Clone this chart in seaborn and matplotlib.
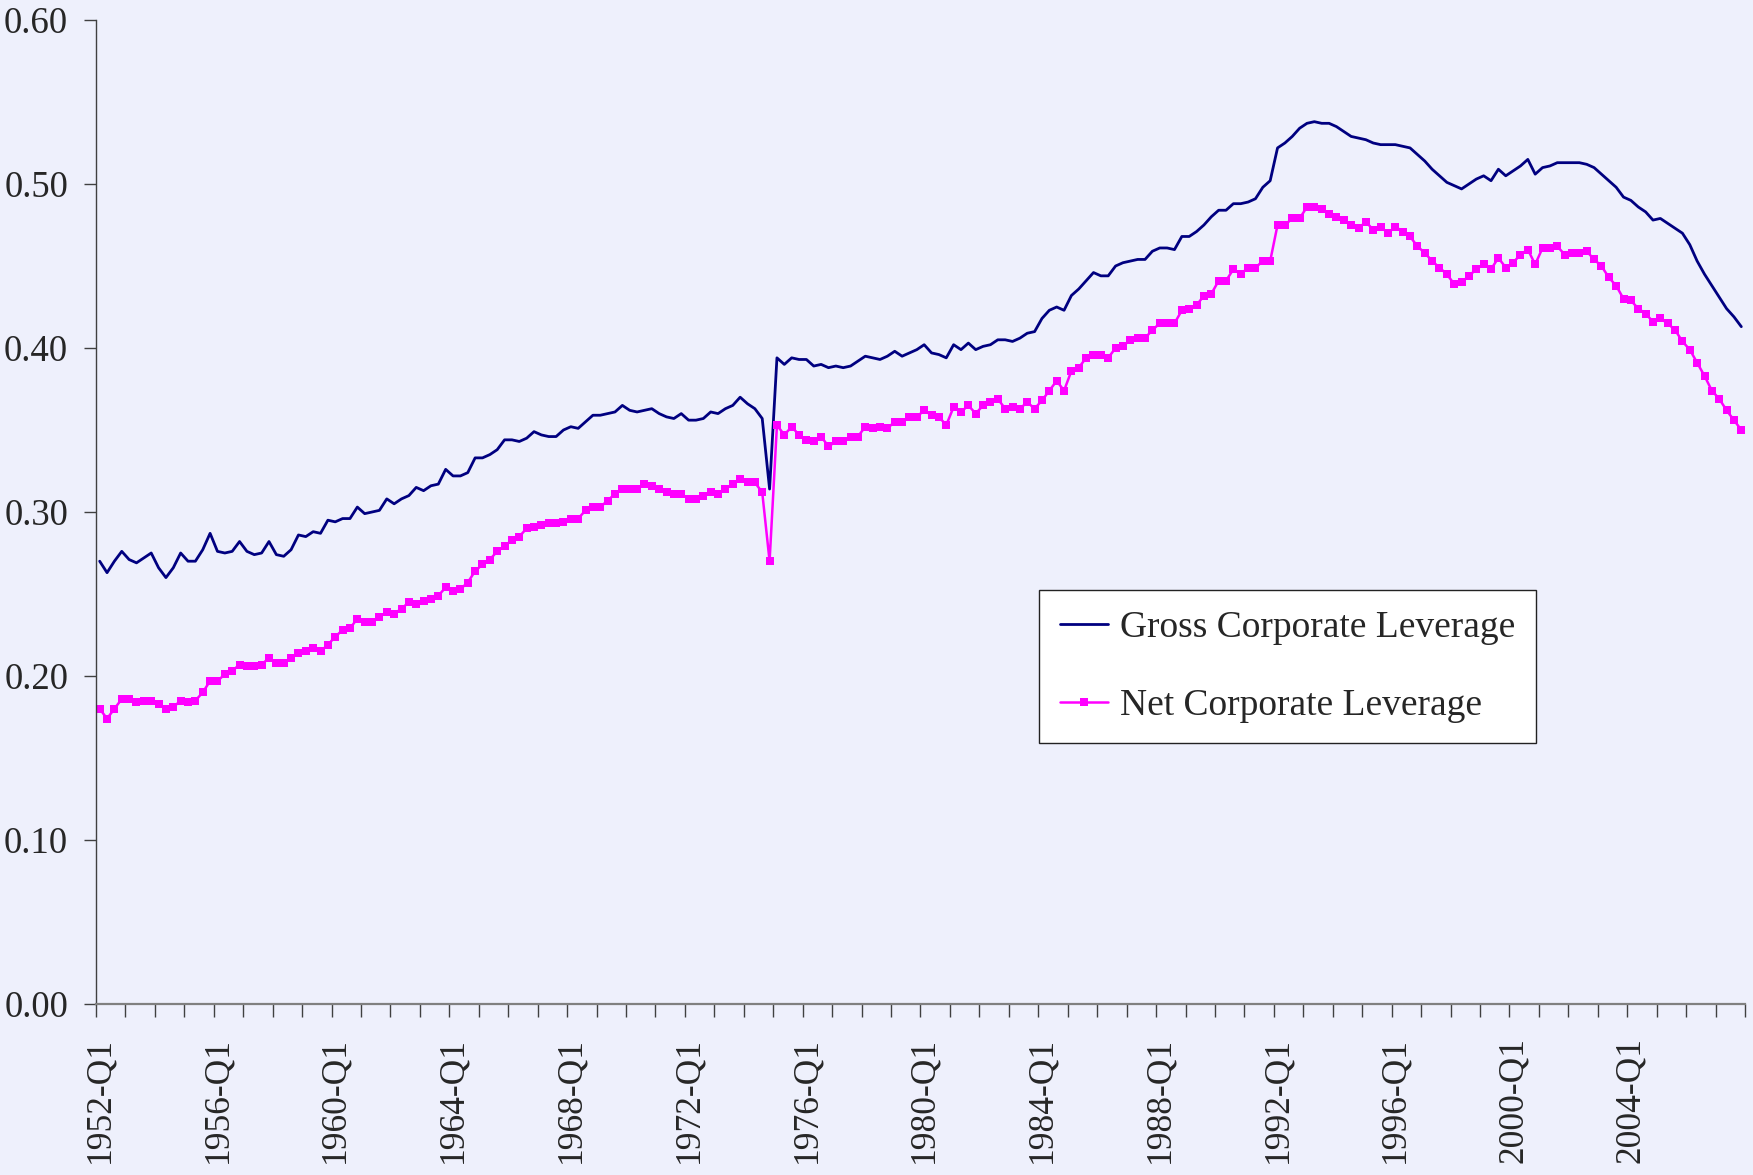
import numpy as np
import pandas as pd
import matplotlib
matplotlib.use("Agg")
import matplotlib.pyplot as plt
import seaborn as sns

# ---------------- data ----------------
quarters = [f"{y}-Q{q}" for y in range(1952, 2008) for q in range(1, 5)]

gross = [
    0.270, 0.263, 0.270, 0.276, 0.271, 0.269, 0.272, 0.275, 0.266, 0.260, 0.266, 0.275, 0.270, 0.270, 0.277, 0.287,
    0.276, 0.275, 0.276, 0.282, 0.276, 0.274, 0.275, 0.282, 0.274, 0.273, 0.277, 0.286, 0.285, 0.288, 0.287, 0.295,
    0.294, 0.296, 0.296, 0.303, 0.299, 0.300, 0.301, 0.308, 0.305, 0.308, 0.310, 0.315, 0.313, 0.316, 0.317, 0.326,
    0.322, 0.322, 0.324, 0.333, 0.333, 0.335, 0.338, 0.344,
    0.344, 0.343, 0.345, 0.349, 0.347, 0.346, 0.346, 0.350, 0.352, 0.351, 0.355, 0.359, 0.359, 0.360, 0.361, 0.365,
    0.362, 0.361, 0.362, 0.363, 0.360, 0.358, 0.357, 0.360, 0.356, 0.356, 0.357, 0.361, 0.360, 0.363, 0.365, 0.370,
    0.366, 0.363, 0.357, 0.314,
    0.394, 0.390, 0.394, 0.393, 0.393, 0.389, 0.390, 0.388, 0.389, 0.388, 0.389, 0.392, 0.395, 0.394, 0.393, 0.395,
    0.398, 0.395, 0.397, 0.399,
    0.402, 0.397, 0.396, 0.394, 0.402, 0.399, 0.403, 0.399, 0.401, 0.402, 0.405, 0.405, 0.404, 0.406, 0.409, 0.410,
    0.418, 0.423, 0.425, 0.423, 0.432, 0.436, 0.441, 0.446, 0.444, 0.444, 0.450, 0.452, 0.453, 0.454, 0.454, 0.459,
    0.461, 0.461, 0.460, 0.468, 0.468, 0.471, 0.475, 0.480, 0.484, 0.484, 0.488, 0.488, 0.489, 0.491, 0.498, 0.502,
    0.522, 0.525, 0.529, 0.534, 0.537, 0.538, 0.537, 0.537,
    0.535, 0.532, 0.529, 0.528, 0.527, 0.525, 0.524, 0.524, 0.524, 0.523, 0.522, 0.518, 0.514, 0.509, 0.505, 0.501,
    0.499, 0.497, 0.500, 0.503, 0.505, 0.502, 0.509, 0.505, 0.508, 0.511, 0.515, 0.506, 0.510, 0.511, 0.513, 0.513,
    0.513, 0.513, 0.512, 0.510, 0.506, 0.502, 0.498, 0.492, 0.490, 0.486, 0.483, 0.478, 0.479, 0.476, 0.473, 0.470,
    0.463, 0.453, 0.445, 0.438, 0.431, 0.424, 0.419, 0.413,
]

net = [
    0.180, 0.174, 0.180, 0.186, 0.186, 0.184, 0.185, 0.185, 0.183, 0.180, 0.181, 0.185, 0.184, 0.185, 0.190, 0.197,
    0.197, 0.201, 0.203, 0.207, 0.206, 0.206, 0.207, 0.211, 0.208, 0.208, 0.211, 0.214, 0.215, 0.217, 0.215, 0.219,
    0.224, 0.228, 0.229, 0.235, 0.233, 0.233, 0.236, 0.239, 0.238, 0.241, 0.245, 0.244, 0.246, 0.247, 0.249, 0.254,
    0.252, 0.253, 0.257, 0.264, 0.268, 0.271, 0.276, 0.279,
    0.283, 0.285, 0.290, 0.291, 0.292, 0.293, 0.293, 0.294, 0.296, 0.296, 0.301, 0.303, 0.303, 0.307, 0.311, 0.314,
    0.314, 0.314, 0.317, 0.316, 0.314, 0.312, 0.311, 0.311, 0.308, 0.308, 0.310, 0.312, 0.311, 0.314, 0.317, 0.320,
    0.318, 0.318, 0.312, 0.270,
    0.353, 0.347, 0.352, 0.347, 0.344, 0.343, 0.346, 0.340, 0.343, 0.343, 0.346, 0.346, 0.352, 0.351, 0.352, 0.351,
    0.355, 0.355, 0.358, 0.358,
    0.362, 0.359, 0.358, 0.353, 0.364, 0.361, 0.365, 0.360, 0.365, 0.367, 0.369, 0.363, 0.364, 0.363, 0.367, 0.363,
    0.368, 0.374, 0.380, 0.374, 0.386, 0.388, 0.394, 0.396, 0.396, 0.394, 0.400, 0.401, 0.405, 0.406, 0.406, 0.411,
    0.415, 0.415, 0.415, 0.423, 0.424, 0.426, 0.432, 0.433, 0.441, 0.441, 0.448, 0.445, 0.449, 0.449, 0.453, 0.453,
    0.475, 0.475, 0.479, 0.479, 0.486, 0.486, 0.485, 0.482,
    0.480, 0.478, 0.475, 0.473, 0.477, 0.472, 0.474, 0.470, 0.474, 0.471, 0.468, 0.462, 0.458, 0.453, 0.449, 0.445,
    0.439, 0.440, 0.444, 0.448, 0.451, 0.448, 0.455, 0.449, 0.452, 0.457, 0.460, 0.451, 0.461, 0.461, 0.462, 0.457,
    0.458, 0.458, 0.459, 0.454, 0.450, 0.443, 0.438, 0.430, 0.429, 0.424, 0.421, 0.416, 0.418, 0.415, 0.411, 0.404,
    0.399, 0.391, 0.383, 0.374, 0.369, 0.362, 0.356, 0.350,
]

tick_labels = ["1952-Q1", "1956-Q1", "1960-Q1", "1964-Q1", "1968-Q1", "1972-Q1", "1976-Q1",
               "1980-Q1", "1984-Q1", "1988-Q1", "1992-Q1", "1996-Q1", "2000-Q1", "2004-Q1"]
y_ticks = [0.0, 0.1, 0.2, 0.3, 0.4, 0.5, 0.6]

series_names = ["Gross Corporate Leverage", "Net Corporate Leverage"]

# ---------------- style ----------------
bg = "#EEF0FC"
sns.set_style("white")
plt.rcParams["font.family"] = ["Liberation Serif", "DejaVu Serif"]

fig = plt.figure(figsize=(17.53, 11.75), dpi=100)
fig.patch.set_facecolor(bg)
ax = fig.add_axes([96 / 1753, 1 - 1004 / 1175, (1745 - 96) / 1753, (1004 - 20) / 1175])
ax.set_facecolor(bg)

df = pd.DataFrame({
    "pos": np.arange(len(quarters)),
    "quarter": quarters,
    series_names[0]: gross,
    series_names[1]: net,
})

sns.lineplot(data=df, x="pos", y=series_names[0], color="#000080", linewidth=2.0,
             ax=ax, label=series_names[0])
sns.lineplot(data=df, x="pos", y=series_names[1], color="#FF00FF", linewidth=1.8,
             marker="s", markersize=5.6, markeredgewidth=0, ax=ax, label=series_names[1])

ax.set_xlim(-0.5, len(quarters) - 0.5)
ax.set_ylim(0, 0.6)
ax.set_xlabel("")
ax.set_ylabel("")

# y axis
ax.set_yticks(y_ticks)
ax.set_yticklabels([f"{v:.2f}" for v in y_ticks], fontsize=26.5)
ax.tick_params(axis="y", which="major", direction="out", length=9, width=1,
               color="#404040", pad=11, left=True)

# x axis: labels at category centres, tick marks at year boundaries
label_pos = [quarters.index(t) for t in tick_labels]
ax.set_xticks(label_pos)
ax.set_xticklabels(tick_labels, rotation=90, fontsize=25.5, va="top", ha="center")
ax.tick_params(axis="x", which="major", length=0, pad=24, bottom=True)
ax.set_xticks(np.arange(-0.5, len(quarters), 4), minor=True)
ax.tick_params(axis="x", which="minor", direction="out", length=9, width=1,
               color="#404040", bottom=True)

for s in ["top", "right"]:
    ax.spines[s].set_visible(False)
ax.spines["left"].set_color("#404040")
ax.spines["left"].set_linewidth(1.0)
ax.spines["bottom"].set_color("#808080")
ax.spines["bottom"].set_linewidth(1.6)
ax.grid(False)

leg = ax.legend(loc="upper left", bbox_to_anchor=((1039 - 96) / 1649, (1004 - 590) / 984),
                frameon=True, fancybox=False, edgecolor="#222222", facecolor="white",
                framealpha=1, fontsize=27, handlelength=1.3, handletextpad=0.3,
                labelspacing=1.15, borderpad=0.55, borderaxespad=0)
leg.get_frame().set_linewidth(1.0)

fig.savefig("out.png", dpi=100, facecolor=bg)
